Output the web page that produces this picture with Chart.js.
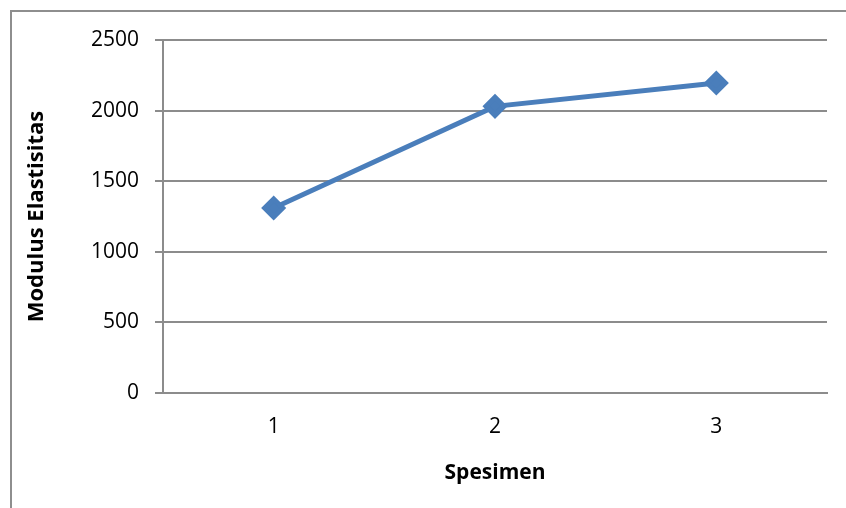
<!DOCTYPE html>
<html>
<head>
<meta charset="utf-8">
<script src="https://cdn.jsdelivr.net/npm/chart.js@4.4.1/dist/chart.umd.min.js"></script>
<style>
  html, body { margin: 0; padding: 0; background: #fff; }
  #wrap { position: relative; width: 846px; height: 508px; }
  #frame { position: absolute; left: 10px; top: 10px; right: -5px; bottom: -5px;
           border-left: 2px solid #8e8e8e; border-top: 2px solid #8e8e8e; }
  canvas { position: absolute; left: 0; top: 0; }
</style>
</head>
<body>
<div id="wrap">
  <div id="frame"></div>
  <canvas id="grafik" width="846" height="508"></canvas>
</div>
<script>
var kategori = ["1", "2", "3"];
var modulus = [1310, 2030, 2195];
var tickY = [0, 500, 1000, 1500, 2000, 2500];

var abu = "#8c8c8c";
var fontDasar = "'Open Sans', 'Noto Sans', sans-serif";

var ctx = document.getElementById("grafik");

new Chart(ctx, {
  type: "line",
  data: {
    labels: kategori,
    datasets: [
      {
        data: modulus,
        borderColor: "#4a7ebb",
        backgroundColor: "#4a7ebb",
        borderWidth: 5,
        pointStyle: "rectRot",
        pointRadius: 9,
        pointHoverRadius: 9,
        tension: 0,
      },
    ],
  },
  options: {
    responsive: false,
    animation: false,
    plugins: { legend: { display: false }, tooltip: { enabled: false } },
    layout: { padding: { left: 0, top: 40, right: 19, bottom: 0 } },
    scales: {
      x: {
        offset: true,
        grid: { display: false, drawTicks: false },
        border: { display: true, color: abu, width: 2 },
        ticks: { color: "#000", padding: 21, font: { family: fontDasar, size: 21 } },
        title: {
          display: true,
          text: "Spesimen",
          color: "#000",
          font: { family: fontDasar, size: 21, weight: "bold" },
          padding: { top: 10, bottom: 22 },
        },
        afterFit: function (scale) { scale.height = 115; },
      },
      y: {
        min: 0,
        max: 2500,
        afterBuildTicks: function (scale) {
          scale.ticks = tickY.map(function (v) { return { value: v }; });
        },
        grid: { color: abu, lineWidth: 2, tickLength: 8, tickColor: abu },
        border: { display: true, color: abu, width: 2 },
        ticks: {
          color: "#000",
          padding: 16,
          font: { family: fontDasar, size: 21 },
          callback: function (v) { return String(v); },
        },
        title: {
          display: true,
          text: "Modulus Elastisitas",
          color: "#000",
          font: { family: fontDasar, size: 22, weight: "bold" },
          padding: { top: 24 },
        },
        afterFit: function (scale) { scale.width = 163; },
      },
    },
  },
});
</script>
</body>
</html>
